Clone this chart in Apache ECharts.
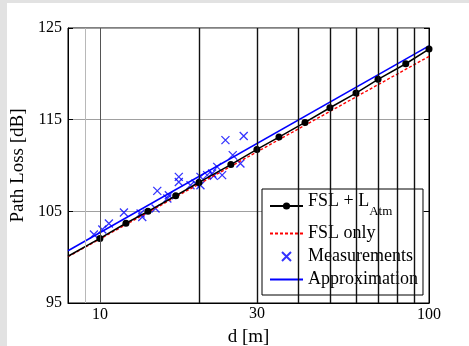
<!DOCTYPE html>
<html>
<head>
<meta charset="utf-8">
<script src="https://cdn.jsdelivr.net/npm/echarts@6/dist/echarts.min.js"></script>
<style>
html,body{margin:0;padding:0;background:#e2e2e2;}
#wrap{position:relative;width:469px;height:346px;background:#e2e2e2;overflow:hidden;}
#chart{position:absolute;left:7px;top:3px;width:462px;height:343px;background:#fff;}
</style>
</head>
<body>
<div id="wrap"><div id="chart"></div></div>
<script>
// Distances (m) of the FSL + L_Atm model points
const modelDist = [10, 12, 14, 17, 20, 25, 30, 35, 42, 50, 60, 70, 85, 100];
const modelLoss = [102.05, 103.7, 105.0, 106.7, 108.15, 110.1, 111.75, 113.1, 114.7, 116.3, 117.9, 119.4, 121.1, 122.7];
// line start at left edge of axis
const modelStart = [8, 100.1];
// FSL only (straight on log axis)
const fslDist = [8, 100];
const fslLoss = [100.05, 121.9];
// Approximation
const approxDist = [8, 100];
const approxLoss = [100.7, 123.05];
// Measurements
const measDist = [9.59, 10.17, 10.65, 11.83, 13.29, 13.45, 14.94, 14.76, 16.2, 16.03, 17.37, 17.37, 18.85, 19.52, 20.21, 20.21, 21.18, 21.93, 22.72, 23.52, 22.18, 24.07, 27.35, 25.33, 26.73];
const measLoss = [102.47, 103.02, 103.67, 104.87, 104.76, 104.39, 107.23, 105.31, 106.76, 106.4, 108.76, 108.2, 107.85, 108.04, 108.76, 107.85, 108.95, 109.13, 109.85, 108.95, 108.87, 112.77, 113.21, 111.13, 110.22];
// Axis
const xMin = 8, xMax = 100;
const yMin = 95, yMax = 125, yStep = 10;
const xLabels = [10, 30, 100];
const gridLinesDark = [20, 30, 40, 50, 60, 70, 80, 90];

const font = 'Liberation Serif, Times New Roman, serif';
const chart = echarts.init(document.getElementById('chart'));

const modelData = [{value: modelStart, symbol: 'none'}].concat(modelDist.map((d, i) => [d, modelLoss[i]]));
const gridMarks = [
  {xAxis: 9, lineStyle: {color: '#b8b8b8', width: 1, type: 'solid'}},
  {xAxis: 10, lineStyle: {color: '#555', width: 1, type: 'solid'}}
].concat(gridLinesDark.filter(v => v !== 30).map(v => ({xAxis: v, lineStyle: {color: '#111', width: 1.4, type: 'solid'}})));
gridMarks.push({xAxis: 30, lineStyle: {color: '#111', width: 1.4, type: 'solid'},
  label: {show: true, position: 'start', formatter: '30', color: '#000', fontFamily: font, fontSize: 16, distance: 3}});

const option = {
  animation: false,
  backgroundColor: '#fff',
  grid: {left: 61, right: 40, top: 25, bottom: 43, show: true, borderColor: '#000', borderWidth: 1,
    backgroundColor: 'transparent', outerBoundsMode: 'none', containLabel: false},
  xAxis: {
    type: 'log', logBase: 10, min: xMin, max: xMax,
    name: 'd [m]', nameLocation: 'middle', nameGap: 14,
    nameTextStyle: {fontFamily: font, fontSize: 19, color: '#000'},
    axisLine: {lineStyle: {color: '#000', width: 1}},
    axisTick: {show: false},
    splitLine: {show: false},
    axisLabel: {fontFamily: font, fontSize: 16, color: '#000', margin: 4,
      formatter: v => xLabels.indexOf(Math.round(v)) >= 0 && Math.abs(v - Math.round(v)) < 1e-6 ? String(Math.round(v)) : ''}
  },
  yAxis: [{
    type: 'value', min: yMin, max: yMax, interval: yStep,
    name: 'Path Loss [dB]', nameLocation: 'middle', nameGap: 36,
    nameTextStyle: {fontFamily: font, fontSize: 19, color: '#000'},
    axisLine: {show: true, lineStyle: {color: '#000', width: 1}},
    axisTick: {show: true, inside: true, length: 5, lineStyle: {color: '#000'}},
    splitLine: {show: true, lineStyle: {color: '#a0a0a0', width: 1}},
    axisLabel: {fontFamily: font, fontSize: 16, color: '#000', margin: 6}
  }, {
    type: 'value', min: yMin, max: yMax, interval: yStep, position: 'right',
    axisLine: {show: true, lineStyle: {color: '#000'}},
    axisTick: {show: true, inside: true, length: 5, lineStyle: {color: '#000'}},
    axisLabel: {show: false}, splitLine: {show: false}
  }],
  legend: {
    orient: 'vertical', left: 255, top: 186,
    backgroundColor: '#fff', borderColor: '#000', borderWidth: 1,
    padding: [3, 5, 6, 7], itemGap: 4, itemWidth: 33, itemHeight: 9,
    data: [
      'FSL + L_Atm',
      {name: 'FSL only', itemStyle: {opacity: 0}},
      'Measurements',
      {name: 'Approximation', itemStyle: {opacity: 0}}
    ],
    formatter: n => n === 'FSL + L_Atm' ? '{main|FSL + L}{sub|Atm}' : n,
    textStyle: {fontFamily: font, fontSize: 18, lineHeight: 19, color: '#000',
      rich: {
        main: {fontFamily: font, fontSize: 18, lineHeight: 19, color: '#000', padding: [0, 0, 10, 0]},
        sub: {fontFamily: font, fontSize: 13, lineHeight: 14, color: '#000', padding: [12, 0, 0, 0]}
      }}
  },
  series: [
    {type: 'line', z: 1, silent: true, data: [[xMin, yMin]], symbol: 'none', showSymbol: false, lineStyle: {opacity: 0},
      markLine: {silent: true, symbol: 'none', animation: false, label: {show: false}, data: gridMarks}},
    {name: 'FSL only', type: 'line', data: fslDist.map((d, i) => [d, fslLoss[i]]), symbol: 'none',
      lineStyle: {color: '#ff0000', width: 1.4, type: [3, 2]}, itemStyle: {color: '#ff0000'}},
    {name: 'FSL + L_Atm', type: 'line', data: modelData, symbol: 'circle', symbolSize: 7,
      lineStyle: {color: '#000', width: 1.5}, itemStyle: {color: '#000'}},
    {name: 'Measurements', type: 'scatter', data: measDist.map((d, i) => [d, measLoss[i]]),
      symbol: 'path://M0,0L10,10M10,0L0,10', symbolSize: 8,
      itemStyle: {color: 'rgba(0,0,0,0)', borderColor: '#0000ff', borderWidth: 1.3}},
    {name: 'Approximation', type: 'line', data: approxDist.map((d, i) => [d, approxLoss[i]]), symbol: 'none',
      lineStyle: {color: '#0000ff', width: 1.6}, itemStyle: {color: '#0000ff'}}
  ]
};
chart.setOption(option);
</script>
</body>
</html>
